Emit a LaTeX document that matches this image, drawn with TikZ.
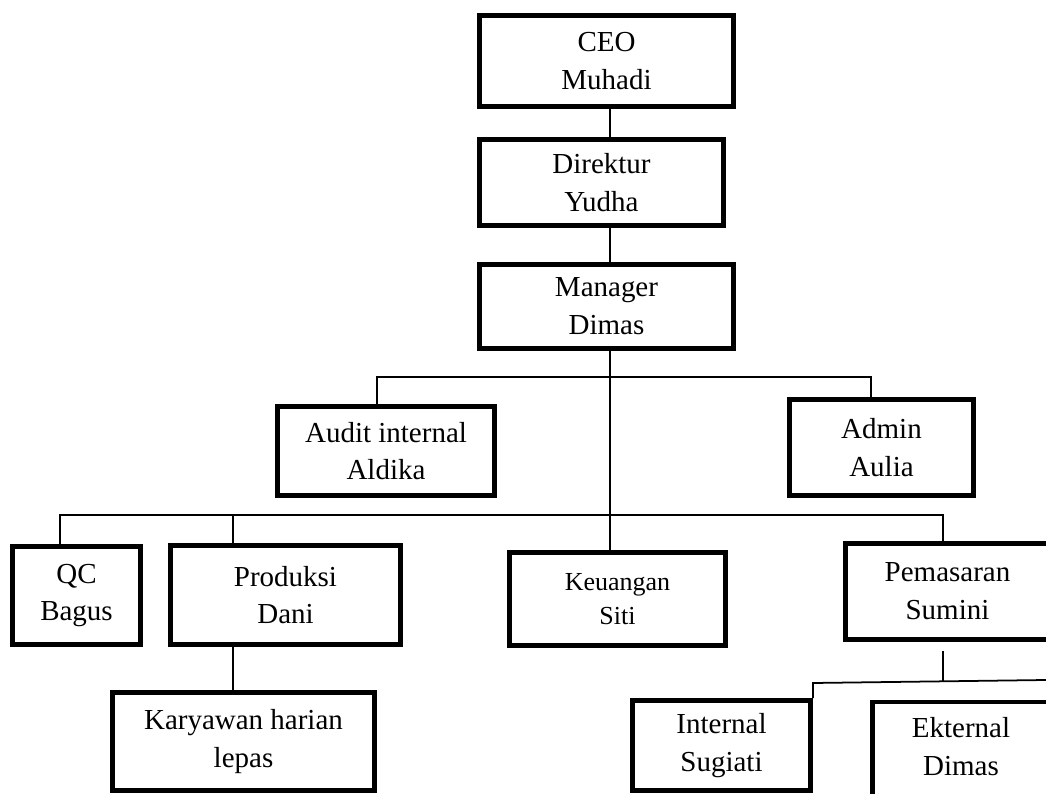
\documentclass[tikz,border=0pt]{standalone}
\usepackage{fontspec}
\setmainfont{Liberation Serif}
\begin{document}
\begin{tikzpicture}[x=0.02cm,y=-0.02cm,
box/.style={draw,line width=2.7pt,align=center,inner sep=0pt,font=\fontsize{16.5}{21.5}\selectfont},
boxsize/.style 2 args={minimum width=#1*0.02cm,minimum height=#2*0.02cm},
link/.style={line width=1pt}]
\useasboundingbox (0,0) rectangle (1046,794);
\clip (0,0) rectangle (1046,794);

\node[box,boxsize={254}{91}] (ceo) at (606.5,61) {CEO\\Muhadi};
\node[box,boxsize={244}{86}] (dir) at (601.5,182.5) {Direktur\\Yudha};
\node[box,boxsize={254}{84}] (man) at (606.5,306.5) {Manager\\Dimas};
\node[box,boxsize={217}{89}] (audit) at (386,451) {Audit internal\\Aldika};
\node[box,boxsize={184}{96}] (admin) at (881.5,447.5) {Admin\\Aulia};
\node[box,boxsize={128}{98}] (qc) at (76.5,595.5) {QC\\Bagus};
\node[box,boxsize={230}{99}] (prod) at (285.5,595) {Produksi\\Dani};
\node[box,boxsize={216}{93},font=\fontsize{14.8}{19.4}\selectfont] (keu) at (617.5,599) {Keuangan\\Siti};
\node[box,boxsize={204}{96}] (pem) at (947.5,591.5) {Pemasaran\\Sumini};
\node[box,boxsize={262}{98}] (kary) at (243.5,741.5) {Karyawan harian\\lepas};
\node[box,boxsize={178}{90}] (int) at (721.5,745.5) {Internal\\Sugiati};
\node[box,boxsize={177}{106},text depth=10pt] (ekst) at (961,755) {Ekternal\\Dimas};

\coordinate (tr) at (610,0);
\coordinate (dAud) at (377,377);
\coordinate (dAdm) at (871,377);
\coordinate (dQc) at (60,515);
\coordinate (dProd) at (233,515);
\coordinate (dPem) at (943,515);
\coordinate (pemTop) at (943,651);
\coordinate (pemBus) at (943,681);
\coordinate (subL) at (813,683);
\coordinate (subR) at (1046,680);

\draw[link] (ceo.south -| tr) -- (dir.north -| tr);
\draw[link] (dir.south -| tr) -- (man.north -| tr);
\draw[link] (man.south -| tr) -- (keu.north -| tr);
\draw[link] (audit.north -| dAud) -- (dAud) -- (dAdm) -- (admin.north -| dAdm);
\draw[link] (qc.north -| dQc) -- (dQc) -- (dPem) -- (pem.north -| dPem);
\draw[link] (dProd) -- (prod.north -| dProd);
\draw[link] (prod.south -| dProd) -- (kary.north -| dProd);
\draw[link] (pemTop) -- (pemBus);
\draw[link] (int.north -| subL) -- (subL) -- (subR);
\end{tikzpicture}
\end{document}
